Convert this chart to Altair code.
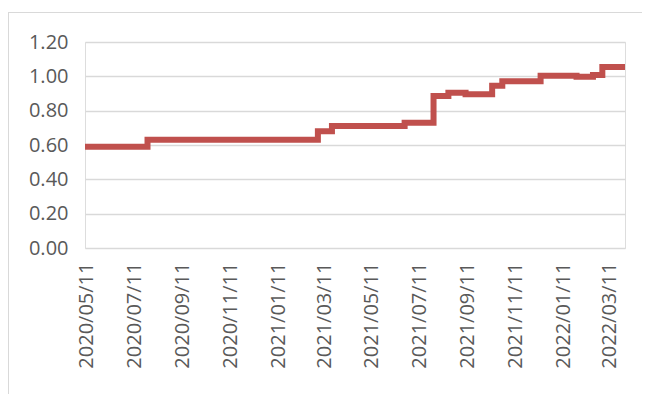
import altair as alt
import pandas as pd

# Step changes of the series (date of change, new level)
change_dates = ["2020/05/09", "2020/07/28", "2021/03/03", "2021/03/21", "2021/06/22",
                "2021/07/29", "2021/08/17", "2021/09/08", "2021/10/12", "2021/10/25",
                "2021/12/13", "2022/01/28", "2022/02/18", "2022/03/02", "2022/03/31"]
levels = [0.59, 0.63, 0.68, 0.71, 0.73,
          0.885, 0.905, 0.895, 0.945, 0.972,
          1.003, 0.998, 1.008, 1.055, 1.055]

# Tick labels on x axis (every two months, the 11th)
tick_dates = [(2020, 5), (2020, 7), (2020, 9), (2020, 11), (2021, 1), (2021, 3),
              (2021, 5), (2021, 7), (2021, 9), (2021, 11), (2022, 1), (2022, 3)]
y_ticks = [0.0, 0.2, 0.4, 0.6, 0.8, 1.0, 1.2]

df = pd.DataFrame({"date": change_dates, "value": levels})

FONT = "Open Sans"
LABEL_COLOR = "#595959"

line = alt.Chart(df).mark_line(
    interpolate="step-after", color="#C0504D", strokeWidth=6, clip=False
).encode(
    x=alt.X("date:T",
            scale=alt.Scale(domain=[alt.DateTime(year=2020, month=5, date=9),
                                    alt.DateTime(year=2022, month=3, date=31)],
                            nice=False),
            axis=alt.Axis(values=[alt.DateTime(year=y, month=m, date=11) for y, m in tick_dates],
                          format="%Y/%m/%d", labelAngle=270, title=None,
                          grid=False, domain=False, ticks=False, labelPadding=14,
                          labelFont=FONT, labelFontSize=20, labelColor=LABEL_COLOR,
                          labelOverlap=False, labelFlush=False)),
    y=alt.Y("value:Q",
            scale=alt.Scale(domain=[0, 1.2], nice=False),
            axis=alt.Axis(values=y_ticks, format=".2f", title=None,
                          domain=False, ticks=False, labelPadding=17,
                          gridColor="#d9d9d9", gridWidth=1.5,
                          labelFont=FONT, labelFontSize=20, labelColor=LABEL_COLOR)),
)

frame = alt.Chart(df).mark_rect(
    fill=None, stroke="#d9d9d9", strokeWidth=1, clip=False
).encode(
    x=alt.value(-76.5), x2=alt.value(700), y=alt.value(-29.5), y2=alt.value(500)
)

chart = alt.layer(frame, line).properties(
    width=540, height=206,
    autosize=alt.AutoSizeParams(type="none"),
    padding={"left": 77, "top": 34, "right": 17, "bottom": 146},
).configure_view(stroke=None).configure(background="white")

chart.save("out.html", embed_options={"renderer": "svg", "actions": False})
